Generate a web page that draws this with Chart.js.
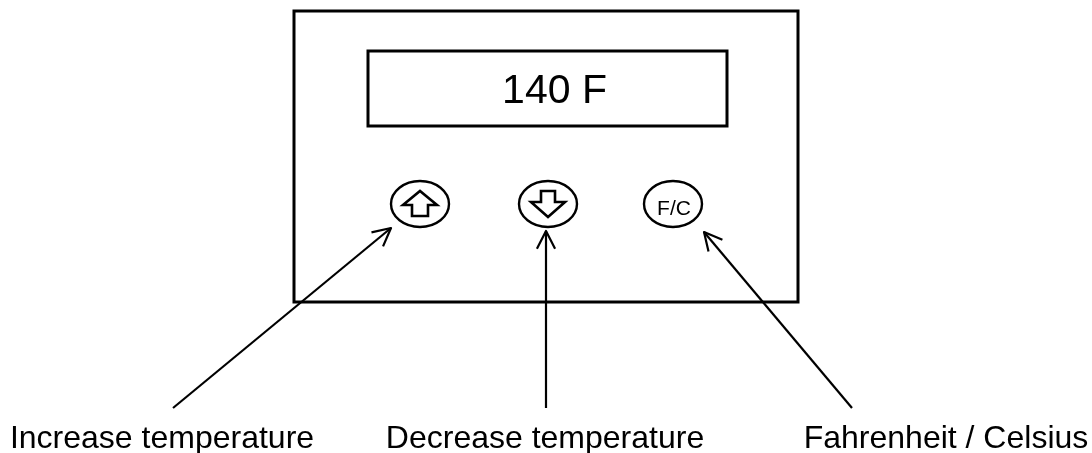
<!DOCTYPE html>
<html>
<head>
<meta charset="utf-8">
<title>Thermostat panel</title>
<script src="https://cdn.jsdelivr.net/npm/chart.js@4.4.1/dist/chart.umd.min.js"></script>
<style>
    html, body { margin: 0; padding: 0; background: #ffffff; }
    #wrap { width: 1092px; height: 453px; }
</style>
</head>
<body>
<div id="wrap"><canvas id="panelChart" width="1092" height="453"></canvas></div>
<script>
// diagram values (in picture units, x to the right, y downwards)
const displayText = '140 F';
const panelCorners = [[294, 11], [798, 11], [798, 302], [294, 302]];
const displayCorners = [[368, 51], [727, 51], [727, 126], [368, 126]];

const buttonNames = ['up', 'down', 'F/C'];
const buttonX = [420, 548, 673];
const buttonY = [204, 204, 204];

const upIcon = [[420, 191], [437, 205], [428, 205], [428, 216], [412, 216], [412, 205], [403, 205], [420, 191]];
const downIcon = [[541, 191], [555, 191], [555, 202], [565, 202], [548, 217], [531, 202], [541, 202], [541, 191]];

const calloutLabels = ['Increase temperature', 'Decrease temperature', 'Fahrenheit / Celsius'];
const calloutTail = [[173, 408], [546, 408], [852, 408]];
const calloutTip = [[391, 228], [546, 231], [704, 232]];
const labelX = [162, 545, 946];
const labelY = 448;

const toPoints = list => list.map(p => ({x: p[0], y: p[1]}));
const closed = list => toPoints(list.concat([list[0], list[1]]));

function lineSet(points, width) {
    return {
        data: points,
        showLine: true,
        borderColor: '#000000',
        borderWidth: width,
        borderJoinStyle: 'miter',
        pointRadius: 0,
        fill: false,
        tension: 0
    };
}

// open "V" head at the tip of each callout
function arrowHead(tail, tip) {
    const ang = Math.atan2(tail[1] - tip[1], tail[0] - tip[0]);
    const len = 20, spread = 27 * Math.PI / 180;
    return [
        {x: tip[0] + len * Math.cos(ang + spread), y: tip[1] + len * Math.sin(ang + spread)},
        {x: tip[0], y: tip[1]},
        {x: tip[0] + len * Math.cos(ang - spread), y: tip[1] + len * Math.sin(ang - spread)}
    ];
}

const datasets = [
    lineSet(closed(panelCorners), 3),
    lineSet(closed(displayCorners), 3),
    lineSet(toPoints(upIcon.concat([upIcon[1]])), 2.6),
    lineSet(toPoints(downIcon.concat([downIcon[1]])), 2.6)
];
calloutTail.forEach((tail, i) => {
    const head = lineSet(arrowHead(tail, calloutTip[i]), 2.2);
    head.borderJoinStyle = 'round';
    datasets.push(lineSet(toPoints([tail, calloutTip[i]]), 2.2));
    datasets.push(head);
});

// buttons (ellipses) and all text, placed through the chart scales
const panelPlugin = {
    id: 'panelPlugin',
    afterDatasetsDraw(chart) {
        const ctx = chart.ctx;
        const sx = chart.scales.x, sy = chart.scales.y;
        ctx.save();
        ctx.strokeStyle = '#000000';
        ctx.fillStyle = '#000000';
        ctx.lineWidth = 2.4;

        buttonX.forEach((bx, i) => {
            const cx = sx.getPixelForValue(bx);
            const cy = sy.getPixelForValue(buttonY[i]);
            ctx.beginPath();
            ctx.ellipse(cx, cy, 29, 23, 0, 0, Math.PI * 2);
            ctx.stroke();
            if (buttonNames[i] === 'F/C') {
                ctx.font = '21px "Liberation Sans", Arial, sans-serif';
                ctx.textAlign = 'center';
                ctx.textBaseline = 'alphabetic';
                ctx.fillText('F/C', cx + 1, cy + 11);
            }
        });

        ctx.font = '41px "Liberation Sans", Arial, sans-serif';
        ctx.textAlign = 'center';
        ctx.textBaseline = 'alphabetic';
        const dx = (displayCorners[0][0] + displayCorners[1][0]) / 2;
        ctx.fillText(displayText, sx.getPixelForValue(dx + 7), sy.getPixelForValue(103));

        ctx.font = '32px "Liberation Sans", Arial, sans-serif';
        calloutLabels.forEach((label, i) => {
            ctx.fillText(label, sx.getPixelForValue(labelX[i]), sy.getPixelForValue(labelY));
        });
        ctx.restore();
    }
};

new Chart(document.getElementById('panelChart').getContext('2d'), {
    type: 'scatter',
    data: {datasets: datasets},
    options: {
        responsive: false,
        animation: false,
        layout: {padding: 0},
        plugins: {legend: {display: false}, tooltip: {enabled: false}},
        scales: {
            x: {type: 'linear', min: 0, max: 1092, display: false},
            y: {type: 'linear', min: 0, max: 453, reverse: true, display: false}
        }
    },
    plugins: [panelPlugin]
});
</script>
</body>
</html>
